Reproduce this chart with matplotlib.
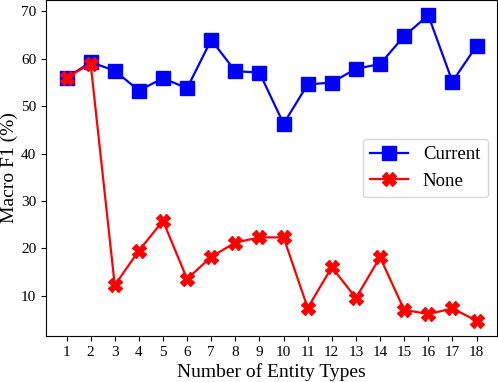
import matplotlib.pyplot as plt

plt.rcParams['font.family'] = ['Liberation Serif', 'DejaVu Serif']

# Number of entity types and macro F1 scores
entity_types = list(range(1, 19))
current_f1 = [56.0, 59.3, 57.5, 53.3, 55.9, 53.8, 64.0, 57.4, 57.1, 46.3,
              54.6, 55.0, 57.9, 58.9, 64.8, 69.2, 55.2, 62.7]
none_f1 = [56.0, 59.0, 12.2, 19.5, 25.8, 13.5, 18.2, 21.2, 22.3, 22.3,
           7.4, 16.0, 9.5, 18.1, 7.0, 6.1, 7.3, 4.7]

fig = plt.figure(figsize=(4.98, 3.82), dpi=100)
ax = fig.add_axes([46 / 498, 46 / 382, 451 / 498, 336 / 382])

ax.plot(entity_types, current_f1, color='blue', marker='s', markersize=10,
        linewidth=1.6, label='Current')
ax.plot(entity_types, none_f1, color='red', marker='X', markersize=10,
        linewidth=1.6, label='None')

ax.set_xticks(entity_types)
ax.tick_params(labelsize=11)
ax.set_xlabel('Number of Entity Types', fontsize=14, labelpad=3)
ax.set_ylabel('Macro F1 (%)', fontsize=14, labelpad=2)
ax.legend(loc='center right', fontsize=13.5)

fig.savefig('out.png', dpi=100)
